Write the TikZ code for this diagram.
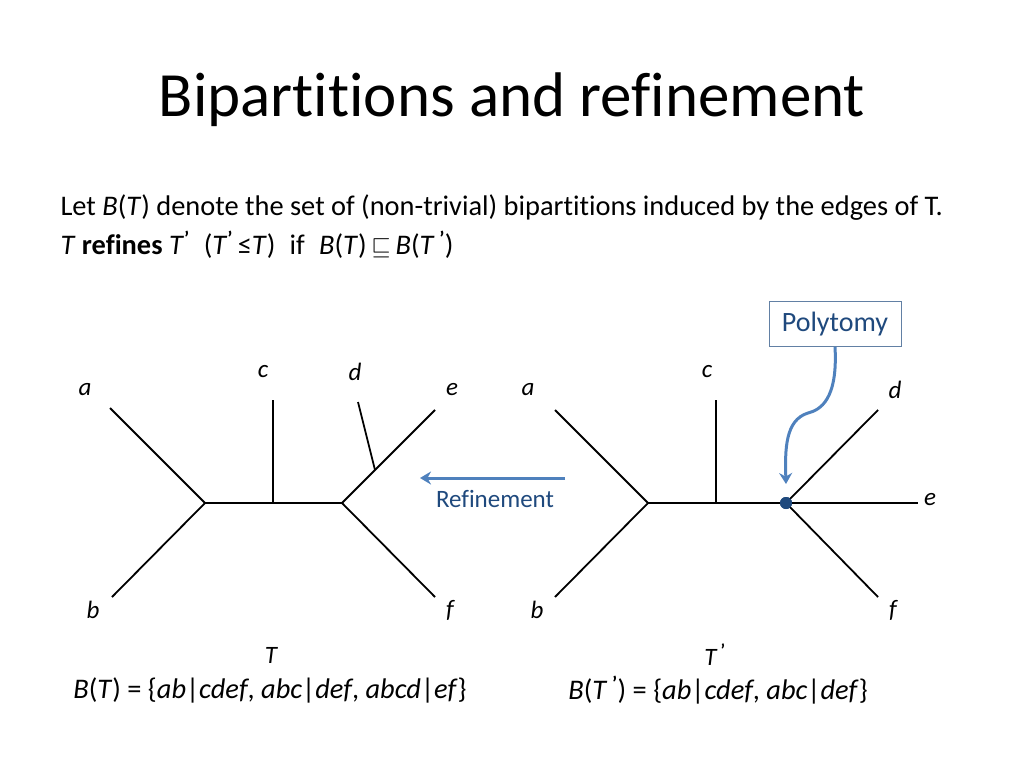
\documentclass[tikz,border=0pt]{standalone}
\usepackage{fontspec}
\setmainfont{Carlito}[Ligatures=NoCommon]
\usepackage{amssymb}
\usetikzlibrary{arrows.meta}
\definecolor{blu}{RGB}{79,129,189}
\definecolor{dblu}{RGB}{31,73,125}
\begin{document}
\begin{tikzpicture}[x=1pt,y=-1pt,
  edge/.style={line width=1.8pt},
  lab/.style={font=\fontsize{25}{28}\selectfont\itshape},
  txt/.style={font=\fontsize{28.4}{32}\selectfont, anchor=west}]
\useasboundingbox (0,0) rectangle (1024,768);
\node (title) at (512,100) {\fontsize{63}{70}\selectfont Bipartitions and refinement};
\node[txt] (l1) at (57,208) {Let \textit{B}(\textit{T}) denote the set of (non-trivial) bipartitions induced by the edges of T.};
\node[txt] (l2) at (57,245) {\textit{T} \textbf{refines} \textit{T}\textsuperscript{\bfseries ’}\enspace(\textit{T}\textsuperscript{\bfseries ’}\,≤\textit{T})\enspace if\enspace \textit{B}(\textit{T})\,$\sqsubseteq$\,\textit{B}(\textit{T}\,\textsuperscript{\bfseries ’})};
% left tree
\coordinate (L1) at (205,503); \coordinate (L2) at (342,503);
\coordinate (Lc) at (273,503); \coordinate (Ld) at (375,470);
\coordinate (ta) at (110,408); \coordinate (tb) at (112,597);
\coordinate (tc) at (273,400); \coordinate (td) at (358,402);
\coordinate (te) at (435,410); \coordinate (tf) at (435,597);
\draw[edge] (ta)--(L1)--(tb); \draw[edge] (L1)--(L2); \draw[edge] (Lc)--(tc);
\draw[edge] (te)--(L2)--(tf); \draw[edge] (Ld)--(td);
\node[lab] (la) at (85,390) {a}; \node[lab] (lb) at (93,610) {b};
\node[lab] (lc) at (263,372) {c}; \node[lab] (ld) at (355,372) {d};
\node[lab] (le) at (452,390) {e}; \node[lab] (lf) at (450,610) {f};
% right tree
\coordinate (R1) at (648,503); \coordinate (Rc) at (716,503);
\node[circle,fill=dblu,inner sep=0pt,minimum size=12pt] (P) at (786,503) {};
\coordinate (ra) at (555,410); \coordinate (rb) at (555,597);
\coordinate (rc) at (716,400); \coordinate (rd) at (878,410);
\coordinate (re) at (918,503); \coordinate (rf) at (878,597);
\draw[edge] (ra)--(R1)--(rb); \draw[edge] (R1)--(P.center); \draw[edge] (Rc)--(rc);
\draw[edge] (P.center)--(rd); \draw[edge] (P.center)--(re); \draw[edge] (P.center)--(rf);
\node[circle,fill=dblu,inner sep=0pt,minimum size=12pt] at (P) {};
\node[lab] (ra2) at (528,390) {a}; \node[lab] (rb2) at (537,610) {b};
\node[lab] (rc2) at (707,372) {c}; \node[lab] (rd2) at (895,390) {d};
\node[lab] (re2) at (930,500) {e}; \node[lab] (rf2) at (893,610) {f};
% refinement
\coordinate (rs) at (565,478); \coordinate (rt) at (420,478);
\draw[blu,line width=3pt,-{Stealth[length=11pt,width=13pt]}] (rs)--(rt);
\node[font=\fontsize{25}{28}\selectfont,text=dblu] (ref) at (495,499) {Refinement};
% polytomy
\node[draw=dblu!70,line width=0.8pt,fill=white,minimum width=132pt,minimum height=45pt,font=\fontsize{28}{32}\selectfont,text=dblu] (poly) at (835,324) {Polytomy};
\coordinate (pe) at (786,484);
\draw[blu,line width=3pt,-{Stealth[length=11pt,width=13pt]}] (poly.south) .. controls (838,400) and (820,410) .. (808,413) .. controls (785,420) and (785,450) .. (pe);
% captions
\node[lab] (cT) at (271,655) {T};
\node[lab] (cT2) at (715,655) {T\,\textsuperscript{\upshape\bfseries ’}};
\node[font=\fontsize{28.4}{32}\selectfont] (bT) at (270,690) {\textit{B}(\textit{T}) = \{\textit{ab}|\textit{cdef}, \textit{abc}|\textit{def}, \textit{abcd}|\textit{ef}\}};
\node[font=\fontsize{28.4}{32}\selectfont] (bT2) at (718,690) {\textit{B}(\textit{T}\,\textsuperscript{\bfseries ’}) = \{\textit{ab}|\textit{cdef}, \textit{abc}|\textit{def}\}};
\end{tikzpicture}
\end{document}
